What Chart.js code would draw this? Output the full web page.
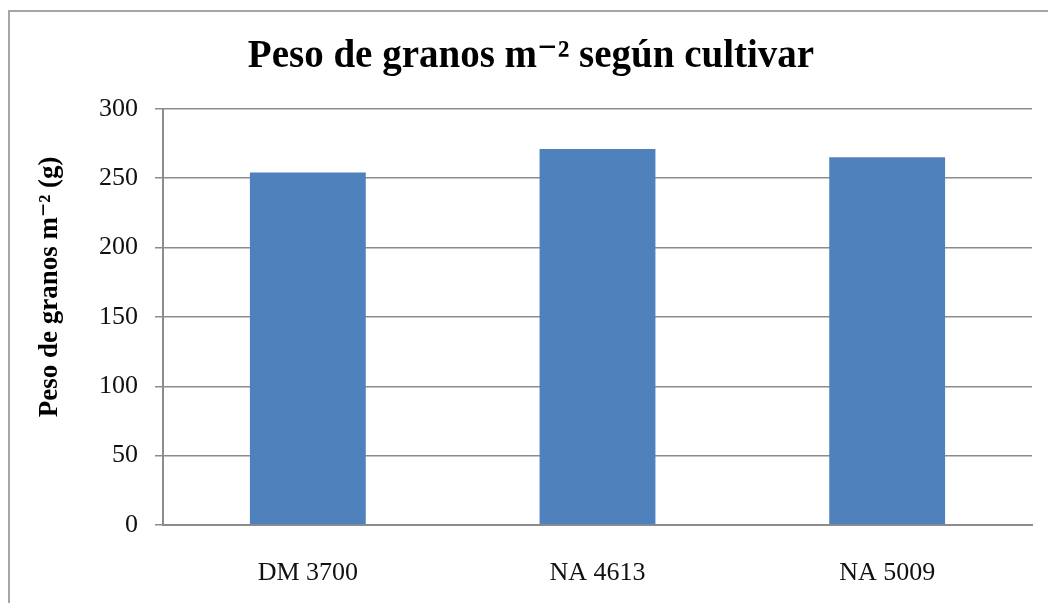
<!DOCTYPE html>
<html>
<head>
<meta charset="utf-8">
<script src="https://cdn.jsdelivr.net/npm/chart.js@4.4.1/dist/chart.umd.min.js"></script>
<style>
html,body{margin:0;padding:0;background:#fff;}
#wrap{position:relative;width:1048px;height:603px;overflow:hidden;}
#frame{position:absolute;left:8px;top:10px;width:1060px;height:620px;border:2px solid #a6a6a6;box-sizing:border-box;}
canvas{position:absolute;left:0;top:0;}
</style>
</head>
<body>
<div id="wrap">
<div id="frame"></div>
<canvas id="c" width="1048" height="603"></canvas>
</div>
<script>
const categories = ["DM 3700", "NA 4613", "NA 5009"];
const values = [254, 271, 265];
const yTicks = [0, 50, 100, 150, 200, 250, 300];
const titleText = "Peso de granos m\u207B\u00B2 según cultivar";
const yTitleText = "Peso de granos m\u207B\u00B2 (g)";

const serif = "'Liberation Serif', 'DejaVu Serif', serif";

// y-axis title drawn rotated, left of the tick labels, like the reference
const yTitlePlugin = {
  id: 'yTitle',
  afterDraw(chart) {
    const ctx = chart.ctx;
    const area = chart.chartArea;
    ctx.save();
    ctx.translate(50, (area.top + area.bottom) / 2 - 30);
    ctx.rotate(-Math.PI / 2);
    ctx.font = "bold 27px " + serif;
    ctx.fillStyle = '#000';
    ctx.textAlign = 'center';
    ctx.textBaseline = 'middle';
    ctx.fillText(yTitleText, 0, 0);
    ctx.restore();
  }
};

new Chart(document.getElementById('c'), {
  type: 'bar',
  data: {
    labels: categories,
    datasets: [{
      data: values,
      backgroundColor: '#4F81BD',
      borderWidth: 0,
      barPercentage: 0.4,
      categoryPercentage: 1.0
    }]
  },
  options: {
    responsive: false,
    animation: false,
    devicePixelRatio: 1,
    layout: { padding: { left: 30, right: 16, top: 10, bottom: 10 } },
    plugins: {
      legend: { display: false },
      tooltip: { enabled: false },
      title: {
        display: true,
        text: titleText,
        color: '#000',
        font: { family: serif, size: 39, weight: 'bold' },
        padding: { top: 24, bottom: 28 }
      }
    },
    scales: {
      x: {
        grid: { display: false, drawTicks: false },
        border: { display: true, color: '#8c8c8c', width: 2 },
        ticks: { color: '#111', font: { family: serif, size: 26 }, padding: 33 },
        afterFit: s => { s.height = 68; }
      },
      y: {
        min: 0, max: 300,
        afterBuildTicks: s => { s.ticks = yTicks.map(v => ({ value: v })); },
        grid: { color: '#8c8c8c', lineWidth: 1.5, tickLength: 8, drawOnChartArea: true },
        border: { display: true, color: '#8c8c8c', width: 2 },
        ticks: { color: '#111', font: { family: serif, size: 26 }, padding: 17 },
        title: { display: false },
        afterFit: s => { s.width = 133; }
      }
    }
  },
  plugins: [yTitlePlugin]
});
</script>
</body>
</html>
